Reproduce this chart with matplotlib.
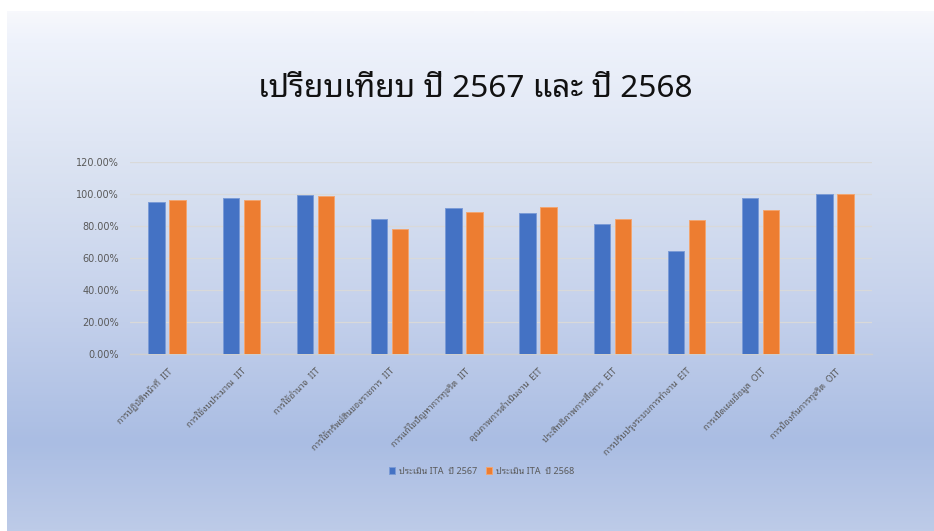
import matplotlib
matplotlib.use("Agg")
import matplotlib.pyplot as plt
import numpy as np
from matplotlib.colors import LinearSegmentedColormap
from matplotlib.ticker import FuncFormatter, MultipleLocator

# categories (Thai labels with the ITA index group)
categories = [
    "การปฏิบัติหน้าที่  IIT",
    "การใช้งบประมาณ  IIT",
    "การใช้อำนาจ  IIT",
    "การใช้ทรัพย์สินของราชการ  IIT",
    "การแก้ไขปัญหาการทุจริต  IIT",
    "คุณภาพการดำเนินงาน  EIT",
    "ประสิทธิภาพการสื่อสาร  EIT",
    "การปรับปรุงระบบการทำงาน  EIT",
    "การเปิดเผยข้อมูล  OIT",
    "การป้องกันการทุจริต  OIT",
]

# scores in percent
ita_2567 = [95.1, 97.2, 99.2, 84.3, 91.2, 88.1, 81.0, 64.5, 97.5, 100.0]
ita_2568 = [96.1, 96.1, 98.7, 78.1, 88.7, 91.7, 84.3, 83.7, 90.0, 100.0]

series_names = ["ประเมิน ITA  ปี 2567", "ประเมิน ITA  ปี 2568"]
title = "เปรียบเทียบ ปี 2567 และ ปี 2568"

thai = ["Noto Sans Thai Looped", "Noto Sans Thai", "DejaVu Sans"]
plt.rcParams["font.family"] = thai

W, H = 934, 531
fig = plt.figure(figsize=(W / 100, H / 100), dpi=100)
fig.patch.set_facecolor("white")

# slide style gradient panel behind the chart
bg = fig.add_axes([7 / W, 0, 1 - 7 / W, 1 - 11 / H], zorder=0)
grad = LinearSegmentedColormap.from_list("g", [
    (0.0, "#f7f8fc"), (0.06, "#eef2fb"), (0.36, "#d6dff0"),
    (0.56, "#c6d2ec"), (0.83, "#aabde3"), (1.0, "#bdcbe8")])
bg.imshow(np.linspace(0, 1, 512).reshape(-1, 1), aspect="auto", cmap=grad,
          extent=[0, 1, 0, 1], origin="upper")
bg.set_axis_off()

ax = fig.add_axes([130 / W, 1 - 354 / H, 742 / W, 192 / H], zorder=1)
ax.patch.set_alpha(0)

x = np.arange(len(categories))
bw = 0.222
off = 0.142
ax.bar(x - off, ita_2567, bw, color="#4472c4", edgecolor="#7b9bd6",
       linewidth=0.7, label=series_names[0], zorder=3)
ax.bar(x + off, ita_2568, bw, color="#ed7d31", edgecolor="#f2a571",
       linewidth=0.7, label=series_names[1], zorder=3)

ax.set_xlim(-0.5, len(categories) - 0.5)
ax.set_ylim(0, 120)
ax.yaxis.set_major_locator(MultipleLocator(20))
ax.yaxis.set_major_formatter(FuncFormatter(lambda v, p: "%.2f%%" % v))
ax.grid(axis="y", color="#d9d9d9", linewidth=0.9, zorder=0)
for s in ["top", "right", "left"]:
    ax.spines[s].set_visible(False)
ax.spines["bottom"].set_color("#cfcfcf")
ax.spines["bottom"].set_linewidth(1.0)
ax.tick_params(axis="both", length=0, colors="#595959", labelsize=7)
ax.tick_params(axis="y", pad=8)
for lab in ax.get_yticklabels():
    lab.set_family(["DejaVu Sans"])

ax.set_xticks(x)
ax.set_xticklabels(categories, rotation=45, ha="right", va="top",
                   rotation_mode="anchor", fontsize=6.5, color="#595959")
ax.tick_params(axis="x", pad=9)

fig.text(475 / W, 1 - 89 / H, title, ha="center", va="center",
         fontsize=22.8, color="#111111", family=thai, fontweight="light")

leg = ax.legend(loc="center", bbox_to_anchor=(0.474, -0.61), ncol=2,
                frameon=False, fontsize=6.5, handlelength=0.7,
                handleheight=0.7, columnspacing=1.0, handletextpad=0.4)
for t in leg.get_texts():
    t.set_color("#595959")

fig.savefig("out.png", dpi=100)
